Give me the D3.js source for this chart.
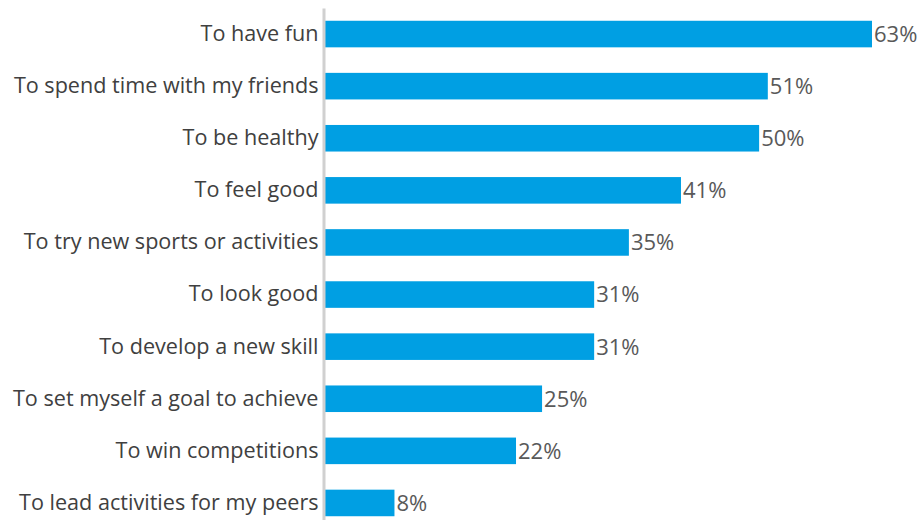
<!DOCTYPE html>
<html>
<head>
<meta charset="utf-8">
<script src="https://cdn.jsdelivr.net/npm/d3@7/dist/d3.min.js"></script>
<style>
  html, body { margin: 0; padding: 0; background: #fff; }
  svg { display: block; }
  text { font-family: "Open Sans", "Noto Sans", sans-serif; }
</style>
</head>
<body>
<svg id="chart" width="921" height="520"></svg>
<script>
const categories = [
  "To have fun",
  "To spend time with my friends",
  "To be healthy",
  "To feel good",
  "To try new sports or activities",
  "To look good",
  "To develop a new skill",
  "To set myself a goal to achieve",
  "To win competitions",
  "To lead activities for my peers"
];
const values = [63, 51, 50, 41, 35, 31, 31, 25, 22, 8];
const valueLabels = ["63%", "51%", "50%", "41%", "35%", "31%", "31%", "25%", "22%", "8%"];

const svg = d3.select("#chart");
const x0 = 325;

const x = d3.scaleLinear().domain([0, 63]).range([x0, 872]);
const y = d3.scaleBand().domain(categories).range([8, 529]).paddingInner(0.49).paddingOuter(0.245);

// bars
svg.append("g")
  .selectAll("rect")
  .data(values)
  .join("rect")
  .attr("x", x(0))
  .attr("y", (d, i) => y(categories[i]))
  .attr("width", d => x(d) - x(0))
  .attr("height", y.bandwidth())
  .attr("fill", "#009FE3");

// category axis
const axis = d3.axisLeft(y).tickSize(0).tickPadding(5);
const g = svg.append("g").attr("transform", `translate(${x0 - 1.5},0)`).call(axis);
g.select(".domain").attr("stroke", "#d0d0d0").attr("stroke-width", 3);
g.selectAll(".tick text")
  .attr("fill", "#404040")
  .style("font-size", "21.6px")
  .style("font-family", "'Open Sans', 'Noto Sans', sans-serif");

// value labels
svg.append("g")
  .selectAll("text")
  .data(values)
  .join("text")
  .attr("x", d => x(d) + 2)
  .attr("y", (d, i) => y(categories[i]) + y.bandwidth() / 2)
  .attr("dy", "0.36em")
  .attr("fill", "#595959")
  .style("font-size", "22px")
  .text((d, i) => valueLabels[i]);
</script>
</body>
</html>
